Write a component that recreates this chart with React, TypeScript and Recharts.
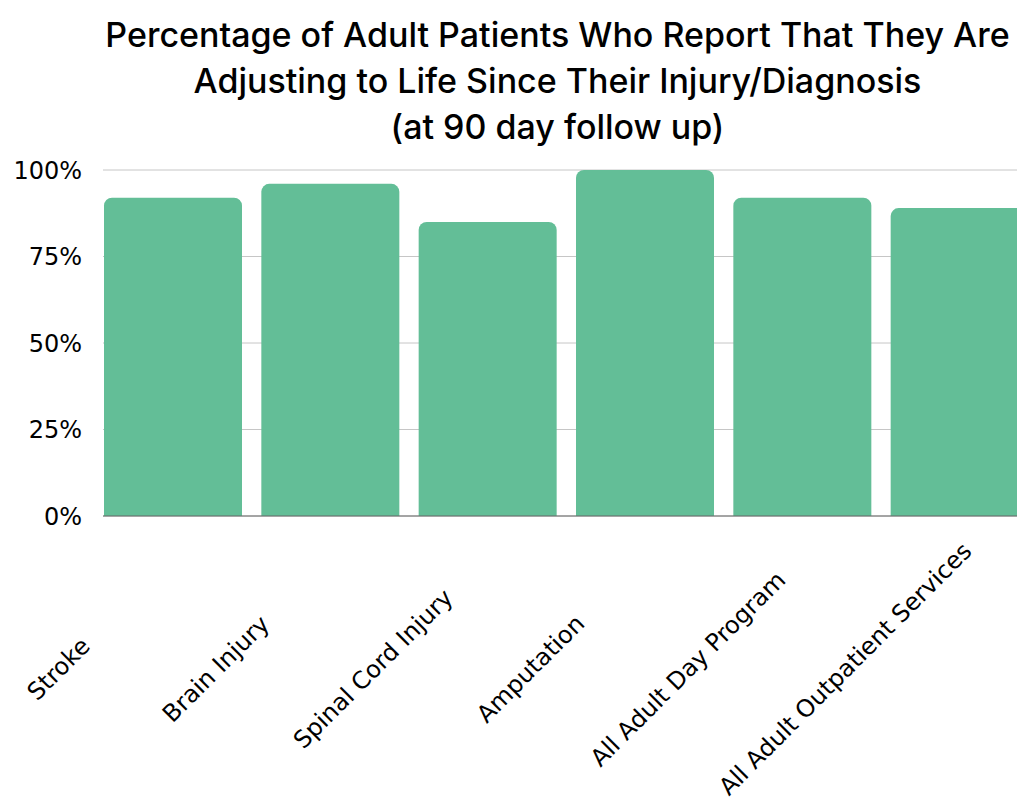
import React from "react";
import { BarChart, Bar, XAxis, YAxis, CartesianGrid } from "recharts";

const categories = [
  "Stroke",
  "Brain Injury",
  "Spinal Cord Injury",
  "Amputation",
  "All Adult Day Program",
  "All Adult Outpatient Services",
];
const values = [92, 96, 85, 100, 92, 89];
const yTicks = [0, 25, 50, 75, 100];
const titleLines = [
  "Percentage of Adult Patients Who Report That They Are",
  "Adjusting to Life Since Their Injury/Diagnosis",
  "(at 90 day follow up)",
];

const data = categories.map((name, i) => ({ name, value: values[i] }));

const TICK_FONT = "'DejaVu Sans', sans-serif";

const CategoryTick = (props: any) => {
  const { x, y, payload } = props;
  const cx = x - 114;
  const cy = y + 153;
  return (
    <text
      x={cx}
      y={cy}
      textAnchor="middle"
      dominantBaseline="central"
      transform={`rotate(-45, ${cx}, ${cy})`}
      fontFamily={TICK_FONT}
      fontSize={24}
      fill="#000"
    >
      {payload.value}
    </text>
  );
};

export default function App() {
  return (
    <div
      style={{
        position: "fixed",
        left: 0,
        top: 0,
        width: 1017,
        height: 808,
        overflow: "hidden",
        background: "#fff",
      }}
    >
      <div
        style={{
          position: "absolute",
          left: 0,
          top: 12,
          width: 1115,
          textAlign: "center",
          fontFamily: "Inter, sans-serif",
          fontSize: 34,
          lineHeight: "46px",
          color: "#000",
          fontWeight: 500,
          whiteSpace: "nowrap",
        }}
      >
        {titleLines.map((t) => (
          <div key={t}>{t}</div>
        ))}
      </div>
      <BarChart
        width={1040}
        height={808}
        data={data}
        margin={{ top: 170, right: 2, left: 0, bottom: 0 }}
      >
        <CartesianGrid vertical={false} stroke="#c6c6c6" />
        <YAxis
          domain={[0, 100]}
          ticks={yTicks}
          width={103}
          axisLine={false}
          tickLine={false}
          tickSize={0}
          tickMargin={21}
          tickFormatter={(v: number) => `${v}%`}
          tick={{ fill: "#000", fontSize: 24, fontFamily: TICK_FONT }}
        />
        <XAxis
          dataKey="name"
          height={292}
          padding={{ left: -9, right: 0 }}
          axisLine={{ stroke: "#666" }}
          tickLine={false}
          tickSize={0}
          tickMargin={0}
          interval={0}
          tick={<CategoryTick />}
        />
        <Bar
          dataKey="value"
          fill="#63BE97"
          barSize={138}
          radius={[8, 8, 0, 0]}
          isAnimationActive={false}
        />
      </BarChart>
    </div>
  );
}
